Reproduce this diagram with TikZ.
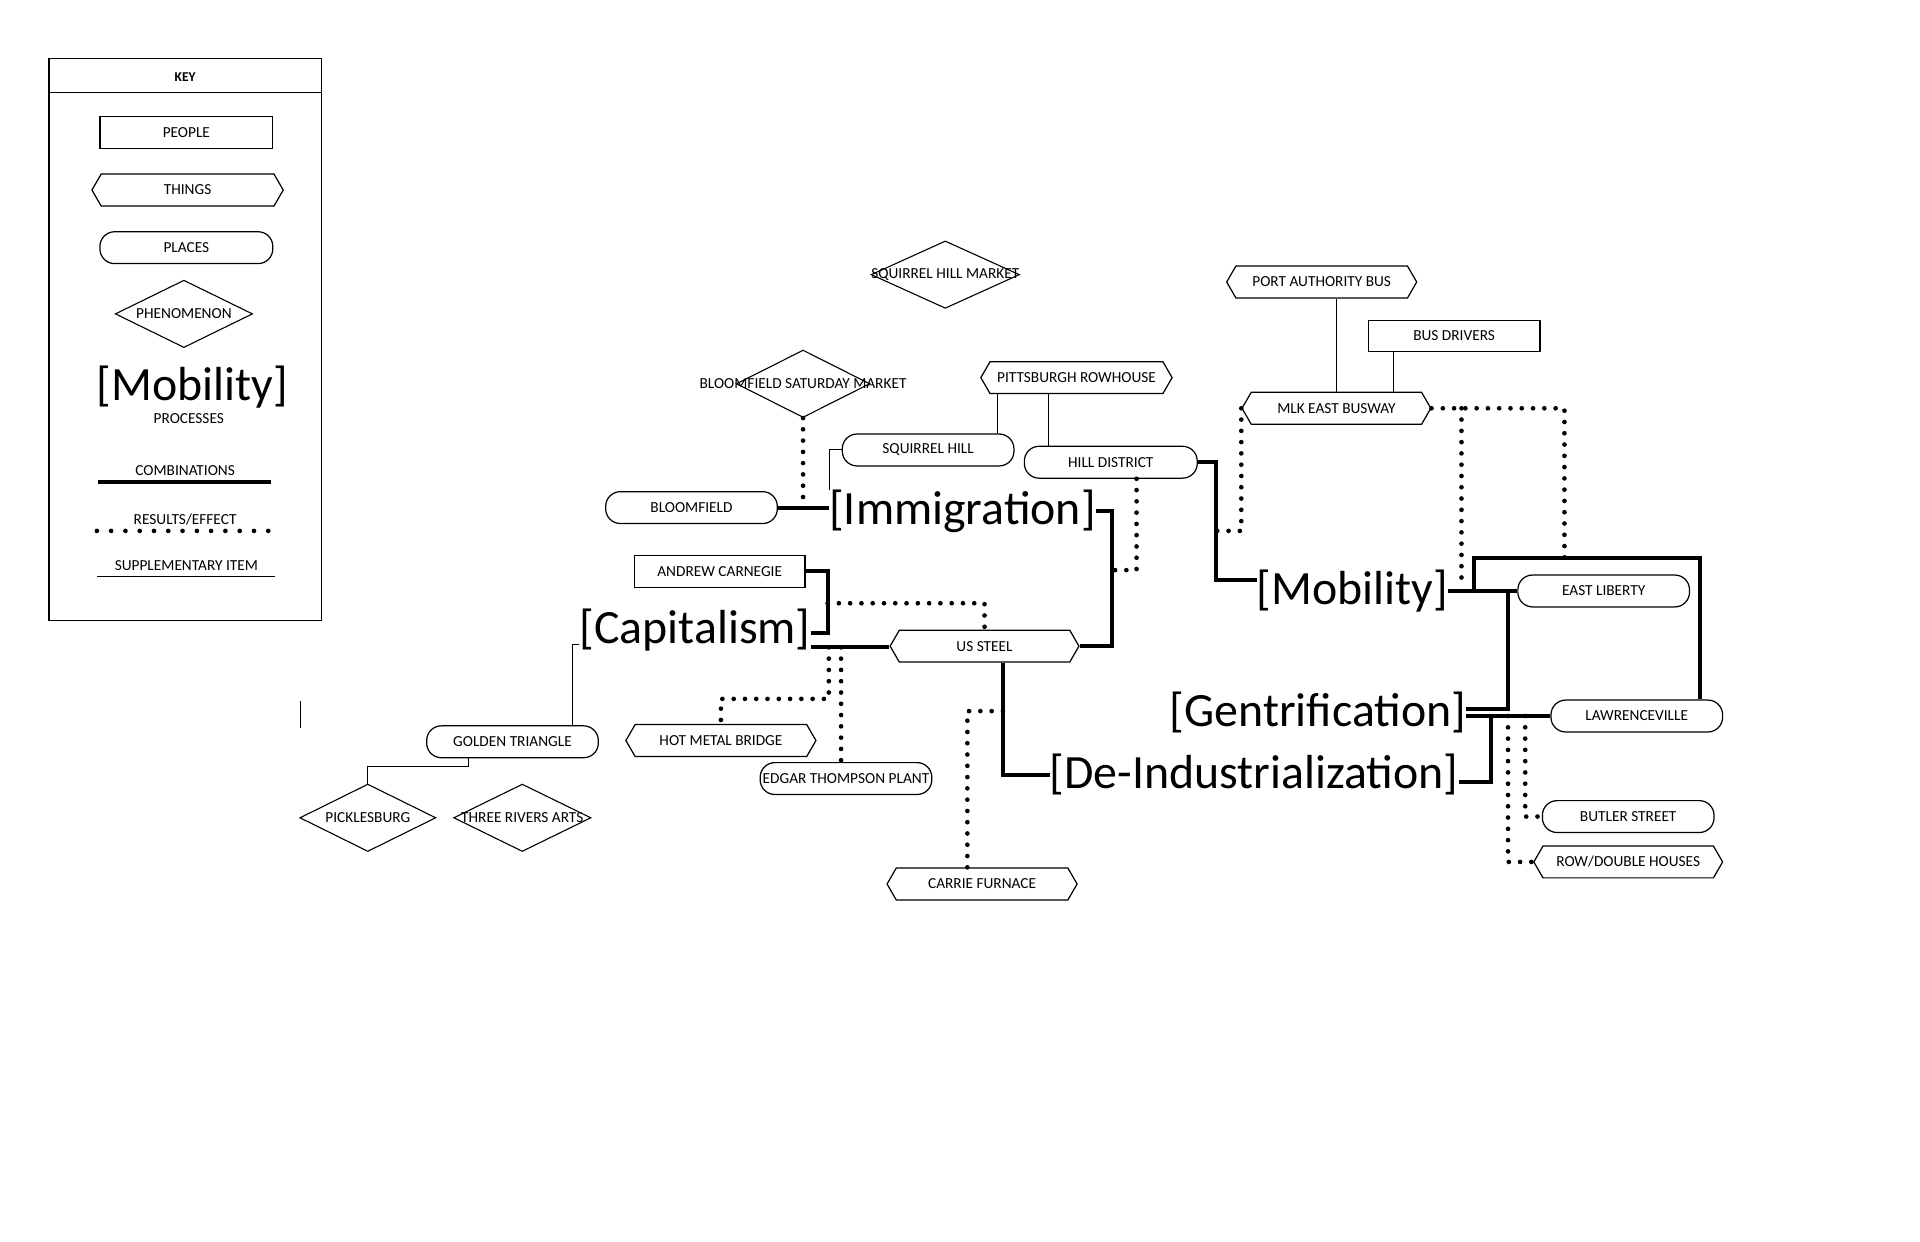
\documentclass[tikz,border=0pt]{standalone}
\usepackage{fontspec}
\setmainfont{Carlito}
\usetikzlibrary{shapes.geometric,shapes.symbols}
\newcommand{\lblfont}{\fontsize{12.5}{14}\selectfont}
\newcommand{\procfont}{\fontsize{39}{41}\selectfont}

\begin{document}
\begin{tikzpicture}[x=1pt,y=-1pt,font=\lblfont]
    \tikzset{peoplebox/.style={draw, rectangle, line width=1, minimum width=140, minimum height=26, inner sep=0},
             thingbox/.style={draw, signal, signal to=west and east, signal pointer angle=120, line width=1, minimum width=155, minimum height=26, inner sep=0},
             placebox/.style={draw, rectangle, rounded corners=12, line width=1, minimum width=140, minimum height=26, inner sep=0},
             phenbox/.style={draw, diamond, line width=0.9, minimum width=112, minimum height=55, inner sep=0},
             proc/.style={inner sep=0, font=\procfont},
             comb/.style={line width=3.3},
             res/.style={line width=3.8, line cap=round, dash pattern=on 0pt off 9.2pt},
             supp/.style={line width=0.8}}
    \useasboundingbox (0,0) rectangle (1566,1013);

    % key
    \node[draw, line width=1, minimum width=222, minimum height=458, inner sep=0] (keybox) at (151,277) {};
    \draw[line width=1] ([yshift=-28]keybox.north west) -- ([yshift=-28]keybox.north east);
    \node[font=\bfseries\fontsize{11}{12}\selectfont] (keytitle) at (151,63) {KEY};
    \node[peoplebox, minimum width=141] (kpeople) at (152,108) {PEOPLE};
    \node[thingbox, minimum width=156] (kthing) at (153,155) {THINGS};
    \node[placebox, minimum width=141] (kplace) at (152,202) {PLACES};
    \node[phenbox, label=center:PHENOMENON] (kphen) at (150,256) {};
    \node[proc] (kproc) at (157,316) {[Mobility]};
    \node (kproctxt) at (154,341) {PROCESSES};
    \node (kcomb) at (151,384) {COMBINATIONS};
    \node (kres) at (151,424) {RESULTS/EFFECT};
    \node (ksupp) at (152,461) {SUPPLEMENTARY ITEM};
    \coordinate (kc1) at (80,393);  \coordinate (kc2) at (221,393);
    \coordinate (kr1) at (79,433);  \coordinate (kr2) at (219,433);
    \coordinate (ks1) at (79,470);  \coordinate (ks2) at (224,470);
    \draw[comb] (kc1) -- (kc2);
    \draw[res, dash pattern=on 0pt off 11.65pt] (kr1) -- (kr2);
    \draw[supp] (ks1) -- (ks2);
    \coordinate (tick1) at (245,572); \coordinate (tick2) at (245,594);
    \draw[line width=1] (tick1) -- (tick2);

    % phenomena
    \node[phenbox, minimum width=121, label=center:SQUIRREL HILL MARKET] (sqhm) at (771,224) {};
    \node[phenbox, minimum width=109, label=center:BLOOMFIELD SATURDAY MARKET] (bsm) at (655,313) {};
    \node[phenbox, minimum width=111, label=center:PICKLESBURG] (pickl) at (300,667) {};
    \node[phenbox, label=center:THREE RIVERS ARTS] (trarts) at (426,667) {};

    % people, things, places
    \node[thingbox, minimum width=156] (rowh) at (878,308) {PITTSBURGH ROWHOUSE};
    \node[placebox] (sqhill) at (757,367) {SQUIRREL HILL};
    \node[placebox, minimum width=141] (hilld) at (906,377) {HILL DISTRICT};
    \node[placebox] (bloom) at (564,414) {BLOOMFIELD};
    \node[thingbox] (pab) at (1078,230) {PORT AUTHORITY BUS};
    \node[peoplebox, minimum height=25] (busdr) at (1186,274) {BUS DRIVERS};
    \node[thingbox, minimum width=154] (mlk) at (1090,333) {MLK EAST BUSWAY};
    \node[placebox] (elib) at (1308,482) {EAST LIBERTY};
    \node[placebox] (lawr) at (1335,584) {LAWRENCEVILLE};
    \node[placebox] (butler) at (1328,666) {BUTLER STREET};
    \node[thingbox, minimum width=154] (rowd) at (1328,703) {ROW/DOUBLE HOUSES};
    \node[peoplebox, minimum width=139] (carn) at (587,466) {ANDREW CARNEGIE};
    \node[thingbox, minimum width=154] (ussteel) at (803,527) {US STEEL};
    \node[thingbox] (hmb) at (588,604) {HOT METAL BRIDGE};
    \node[placebox] (etp) at (690,635) {EDGAR THOMPSON PLANT};
    \node[thingbox] (carrie) at (801,721) {CARRIE FURNACE};
    \node[placebox] (gold) at (418,605) {GOLDEN TRIANGLE};

    % processes
    \node[proc] (immig) at (785,417) {[Immigration]};
    \node[proc] (capit) at (567,514) {[Capitalism]};
    \node[proc] (mobil) at (1103,482) {[Mobility]};
    \node[proc] (gentr) at (1075,581) {[Gentrification]};
    \node[proc] (deind) at (1023,632) {[De-Industrialization]};

    % junctions
    \coordinate (jImm) at (907,527);
    \coordinate (jHill) at (907,465);
    \coordinate (jMob) at (992,473);
    \coordinate (jBus) at (992,433);
    \coordinate (jEast) at (1276,455);
    \coordinate (jDot) at (1192,478);
    \coordinate (jLoop) at (1202,482);
    \coordinate (jGen) at (1230,482);
    \coordinate (jDe) at (1216,584);
    \coordinate (jBut) at (1244,584);
    \coordinate (jRow) at (1230,584);
    \coordinate (jCar) at (675,465);
    \coordinate (jCarDot) at (675,492);
    \coordinate (jHmb) at (676,528);
    \coordinate (jEtp) at (686,528);
    \coordinate (jCarrie) at (818,580);
    \coordinate (capU) at ([yshift=-2]capit.east);
    \coordinate (capL) at ([yshift=-14]capit.east);

    % immigration
    \draw[comb] (bloom.east) -- (bloom.east -| immig.west);
    \draw[supp] (sqhill.west) -| (immig.north west);
    \draw[res] (bsm.south) -- (bsm.south |- bloom.east);
    \draw[supp] ([xshift=-14]sqhill.north east) -- ([xshift=-14]sqhill.north east |- rowh.south);
    \draw[supp] ([xshift=20]hilld.north west) -- ([xshift=20]hilld.north west |- rowh.south);
    \draw[comb] (immig.east) -| (jImm) -- (ussteel.east);
    \draw[res] ([xshift=21]hilld.south) |- (jHill);

    % mobility
    \draw[comb] (hilld.east) -| (jMob) -- (jMob -| mobil.west);
    \draw[res] (mlk.west) |- (jBus);
    \draw[supp] (mlk.north) -- (mlk.north |- pab.south);
    \draw[supp] ([xshift=21]busdr.south west) -- ([xshift=21]busdr.south west |- mlk.north);
    \draw[res] (mlk.east) -| (jEast);
    \draw[res] (mlk.east -| jDot) -- (jDot);
    \draw[comb] (mobil.east |- elib.west) -- (elib.west);
    \draw[comb] (jLoop) |- (jEast) -| ([xshift=-19]lawr.north east);

    % gentrification, de-industrialization
    \draw[comb] (jGen) |- ([yshift=3]gentr.east);
    \draw[comb] (lawr.west) -- (lawr.west -| gentr.east);
    \draw[comb] (jDe) |- ([yshift=-6]deind.east);
    \draw[res] (jBut) |- (butler.west);
    \draw[res] (jRow) |- (rowd.west);

    % capitalism
    \draw[comb] (carn.east) -| (capU -| jCar) -- (capU);
    \draw[comb] (capL) -- (capL -| ussteel.west);
    \draw[res] (jCarDot) -| (ussteel.north);
    \draw[res] (jHmb) -- ++(0,42) -| (hmb.north);
    \draw[res] (jEtp) -- (jEtp |- etp.north);
    \draw[comb] ([xshift=15]ussteel.south) |- (deind.west);
    \draw[res] (jCarrie) -| ([xshift=-12]carrie.north);
    \draw[supp] ([yshift=-12]capit.west) -| ([xshift=49]gold.north);
    \draw[supp] ([xshift=-36]gold.south) -- ++(0,7) -| (pickl.north);
\end{tikzpicture}
\end{document}
